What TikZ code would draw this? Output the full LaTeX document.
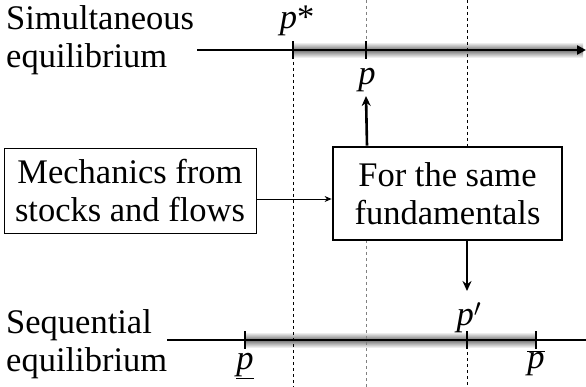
\documentclass[tikz,border=0pt]{standalone}
\usepackage{fontspec}
\setmainfont{Liberation Serif}
\usetikzlibrary{arrows.meta}
\begin{document}
\begin{tikzpicture}[x=1pt,y=1pt,
  txt/.style={font=\fontsize{34.5}{38}\selectfont, inner sep=0pt},
  axisline/.style={line width=2.8pt},
  tickmark/.style={line width=2.8pt},
  guide/.style={line width=0.8pt, dash pattern=on 3pt off 3pt},
  guidegray/.style={guide, draw=black!50},
  band/.style={top color=white, bottom color=white, middle color=black!55},
  boxthin/.style={draw, line width=0.9pt, txt, align=center, minimum width=252pt, minimum height=85pt},
  boxthick/.style={draw, line width=2.8pt, txt, align=center, minimum width=229pt, minimum height=93pt}
]
\useasboundingbox (0,0) rectangle (586,-387);
% shaded bands
\shade[band] (293,-42) rectangle (583,-58);
\shade[band] (245,-332) rectangle (536,-348);
% guides
\draw[guide] (293,-50) -- (293,-387);
\draw[guidegray] (366,0) -- (366,-50);
\draw[guidegray] (366,-240) -- (366,-387);
\draw[guide] (467,0) -- (467,-147);
\draw[guide] (467,-340) -- (467,-387);
% labels
\node[txt, anchor=west, align=left] (sim) at (6,-40) {Simultaneous\\equilibrium};
\node[txt, anchor=west, align=left] (seq) at (6,-344) {Sequential\\equilibrium};
% axes
\coordinate (a1s) at (197,-50);
\coordinate (a1e) at (586,-50);
\draw[axisline, -{Triangle[length=9pt,width=9pt]}] (a1s) -- (a1e);
\coordinate (a2s) at (167,-340);
\coordinate (a2e) at (586,-340);
\draw[axisline] (a2s) -- (a2e);
% ticks
\draw[tickmark] (293,-41) -- (293,-59);
\draw[tickmark] (366,-41) -- (366,-59);
\draw[tickmark] (245,-331) -- (245,-349);
\draw[tickmark] (467,-331) -- (467,-349);
\draw[tickmark] (536,-331) -- (536,-349);
% tick labels
\node[txt] (pstar) at (297,-21) {\textit{p}*};
\node[txt] (p) at (367,-80) {\textit{p}};
\node[txt] (pprime) at (469,-318) {\textit{p}$'$};
\node[txt] (plow) at (245,-366) {\underline{\textit{p}}};
\node[txt] (phigh) at (536,-363) {$\overline{\mbox{\textit{p}}}$};
% boxes
\node[boxthin] (mech) at (130,-190.5) {Mechanics from\\stocks and flows};
\node[boxthick] (same) at (447.5,-193.5) {For the same\\fundamentals};
% connectors
\coordinate (ms) at ([yshift=-8.5pt]mech.east);
\draw[line width=0.9pt, -{Stealth[length=7pt,width=6pt]}] (ms) -- (ms -| same.west);
\draw[line width=2.6pt, -{Stealth[length=10pt,width=9pt]}] (same.north -| p) -- (366,-96);
\draw[line width=2.6pt, -{Stealth[length=10pt,width=9pt]}] (same.south -| pprime) ++(-2,0) coordinate (dstart) -- (467,-291);
\end{tikzpicture}
\end{document}
